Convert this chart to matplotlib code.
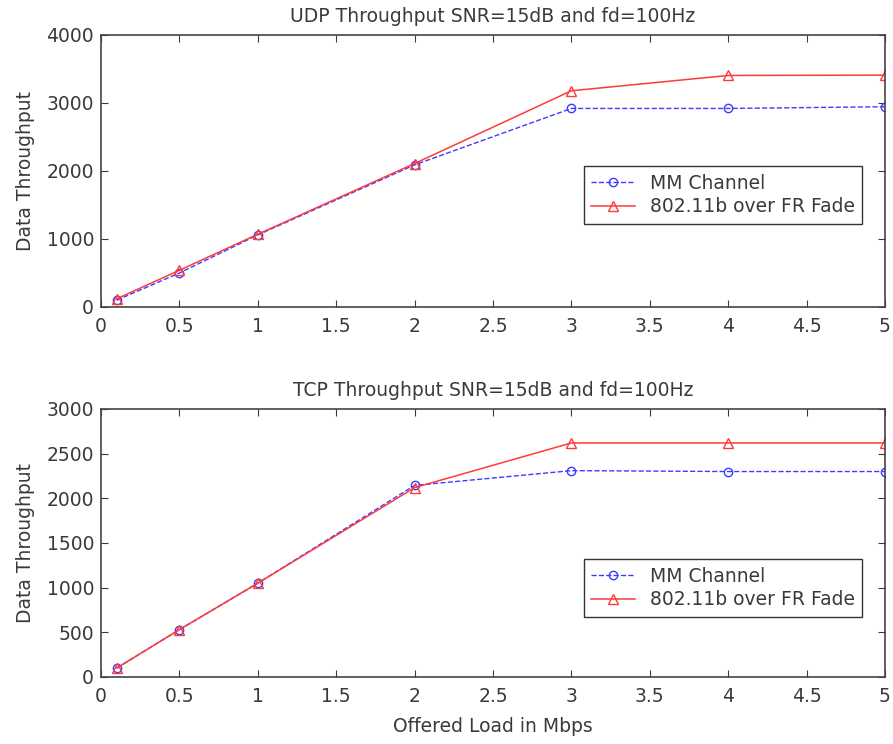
import matplotlib.pyplot as plt

plt.rcParams['font.family'] = 'DejaVu Sans'

# offered load (Mbps)
load = [0.1, 0.5, 1, 2, 3, 4, 5]

# UDP throughput
udp_mm = [100, 500, 1060, 2090, 2920, 2920, 2945]
udp_fr = [120, 540, 1070, 2110, 3180, 3405, 3410]

# TCP throughput
tcp_mm = [100, 530, 1050, 2145, 2310, 2300, 2300]
tcp_fr = [100, 530, 1050, 2120, 2620, 2620, 2620]

xticks = [0, 0.5, 1, 1.5, 2, 2.5, 3, 3.5, 4, 4.5, 5]
xticklabels = ['0', '0.5', '1', '1.5', '2', '2.5', '3', '3.5', '4', '4.5', '5']

fig = plt.figure(figsize=(8.93, 7.44), dpi=100)

ax1 = fig.add_axes([101 / 893, 1 - 307 / 744, 784 / 893, 272 / 744])
ax2 = fig.add_axes([101 / 893, 1 - 677 / 744, 784 / 893, 268 / 744])

blue = '#3c3cff'
red = '#ff3a3a'
fs = 13.5


def style(ax, ymax, ystep, title, leg_y):
    ax.set_xlim(0, 5)
    ax.set_ylim(0, ymax)
    ax.set_xticks(xticks)
    ax.set_xticklabels(xticklabels)
    ax.set_yticks(range(0, ymax + 1, ystep))
    ax.tick_params(direction='in', top=True, right=True, length=5,
                   labelsize=fs, colors='#3a3a3a')
    ax.tick_params(axis='x', pad=7)
    ax.tick_params(axis='y', pad=5)
    for s in ax.spines.values():
        s.set_color('#444444')
        s.set_linewidth(1.2)
    ax.set_title(title, fontsize=fs, color='#3a3a3a', pad=9)
    ax.set_ylabel('Data Throughput', fontsize=fs, color='#3a3a3a', labelpad=8)
    leg = ax.legend(loc='upper left', bbox_to_anchor=(0.616, leg_y),
                    fontsize=fs, fancybox=False, framealpha=1,
                    edgecolor='#333333', borderpad=0.4, labelspacing=0.25,
                    handlelength=2.3, handletextpad=0.8, borderaxespad=0)
    leg.get_frame().set_linewidth(1.0)
    for t in leg.get_texts():
        t.set_color('#3a3a3a')


ax1.plot(load, udp_mm, '--o', color=blue, mfc='none', ms=6, lw=1.0, label='MM Channel')
ax1.plot(load, udp_fr, '-^', color=red, mfc='none', ms=7, lw=1.1, label='802.11b over FR Fade')
style(ax1, 4000, 1000, 'UDP Throughput SNR=15dB and fd=100Hz', 0.518)

ax2.plot(load, tcp_mm, '--o', color=blue, mfc='none', ms=6, lw=1.0, label='MM Channel')
ax2.plot(load, tcp_fr, '-^', color=red, mfc='none', ms=7, lw=1.1, label='802.11b over FR Fade')
style(ax2, 3000, 500, 'TCP Throughput SNR=15dB and fd=100Hz', 0.44)
ax2.set_xlabel('Offered Load in Mbps', fontsize=fs, color='#3a3a3a', labelpad=8)

fig.savefig('out.png', dpi=100)
